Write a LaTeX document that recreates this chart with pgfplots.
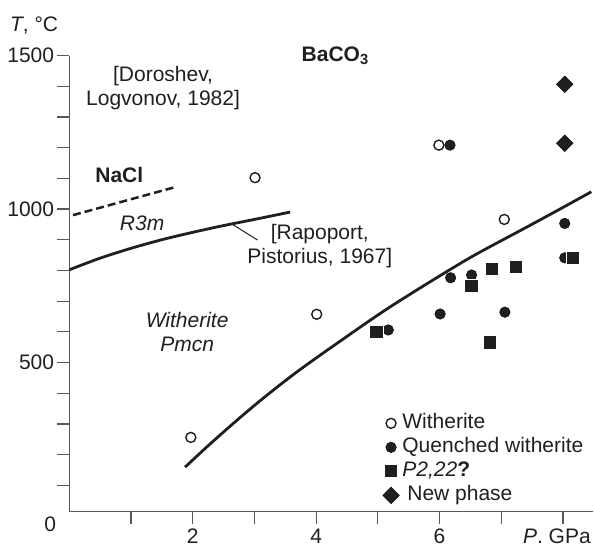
\documentclass[border=0pt]{standalone}
\usepackage{fontspec}
\setmainfont{Liberation Sans}
\usepackage{pgfplots}
\pgfplotsset{compat=1.18}
\colorlet{ink}{black!88}
\colorlet{axgray}{black!65}
\begin{document}
\begin{tikzpicture}[font=\fontsize{21bp}{24bp}\selectfont, text=ink]
\useasboundingbox (0,0) rectangle (594bp,-547bp);
\begin{axis}[
  at={(69.3bp,-511.7bp)}, anchor=south west,
  x=61.7bp, y=0.307bp,
  xmin=0, xmax=8.48, ymin=14, ymax=1500,
  axis lines=left,
  axis line style={-, axgray, line width=1.3bp},
  clip=false,
  tick align=outside,
  major tick length=12bp,
  tick style={axgray, line width=1.2bp},
  xtick={1,...,8},
  xticklabels={,2,,4,,6,,{\textit{P}. GPa\hspace*{12bp}}},
  ytick={100,200,...,1500},
  yticklabels={,,,,500,,,,,1000,,,,,1500},
  xticklabel style={inner sep=5bp},
  yticklabel style={inner sep=3bp},
  extra x ticks={0},
  extra x tick labels={0},
  extra x tick style={major tick length=0pt, xticklabel style={xshift=-19bp}},
  legend style={at={(rel axis cs:0.599,0.220)}, anchor=north west,
    draw=none, fill=none, inner sep=0pt, outer sep=0pt, row sep=0pt,
    nodes={inner sep=2bp, text height=15bp, text depth=5bp, anchor=west},
    /tikz/every odd column/.append style={column sep=1bp}},
  legend cell align=left,
  legend image code/.code={\path (-8bp,0bp) (8bp,0bp);
    \draw[#1] plot coordinates {(0bp,0bp)};},
]
% phase boundaries
\addplot[forget plot, smooth, ink, line width=2.8bp] coordinates {
  (1.875,159) (2.3,238) (2.77,321) (3.2,393) (3.74,477) (4.5,585)
  (5.1,668) (5.68,742) (6.5,842) (7.33,932) (7.9,994) (8.46,1056)};
\addplot[forget plot, smooth, ink, line width=2.8bp] coordinates {
  (0,802) (0.5,840) (1,872) (1.5,900) (2,924) (2.5,946) (3,966) (3.58,990)};
\addplot[forget plot, ink, line width=2.5bp, dash pattern=on 8bp off 4bp] coordinates {
  (0.06,980) (1.71,1071)};
\draw[ink, line width=1bp] (axis cs:2.62,953) -- (axis cs:3.05,899);

% experiments
\addplot[only marks, mark=o, mark size=5bp, ink, mark options={line width=1.4bp}] coordinates {
  (1.97,256) (3.01,1102) (4.01,657) (5.99,1208) (7.05,966)};
\addplot[only marks, mark=*, mark size=5.3bp, mark options={draw=none, fill=ink}] coordinates {
  (6.17,1208) (8.03,953) (8.03,841) (6.18,776) (6.52,785) (5.17,606) (6.01,658) (7.06,664)};
\addplot[only marks, mark=square*, mark size=6.6bp, mark options={draw=white, line width=1bp, fill=ink}] coordinates {
  (4.98,600) (6.82,565) (6.52,750) (6.85,805) (7.24,812) (8.16,841)};
\addplot[only marks, mark=square*, mark size=5.9bp, mark options={rotate=45, draw=none, fill=ink}] coordinates {
  (8.03,1406) (8.03,1214)};
\legend{Witherite, Quenched witherite, {\textit{P2,22}\textbf{?}}, {\hspace*{5bp}New phase}}

% labels
\node at (axis cs:-0.57,1599) {\textit{T}, °C};
\node[anchor=base west] at (axis cs:3.71,1482) {\textbf{BaCO\textsubscript{3}}};
\node[align=center] at (axis cs:1.52,1394) {[Doroshev,\\Logvonov, 1982]};
\node at (axis cs:0.81,1111) {\textbf{NaCl}};
\node at (axis cs:1.18,954) {\textit{R3m}};
\node[align=center] at (axis cs:4.06,879) {[Rapoport,\\Pistorius, 1967]};
\node[align=center] at (axis cs:1.91,599) {\textit{Witherite}\\\textit{Pmcn}};
\end{axis}
\end{tikzpicture}
\end{document}
